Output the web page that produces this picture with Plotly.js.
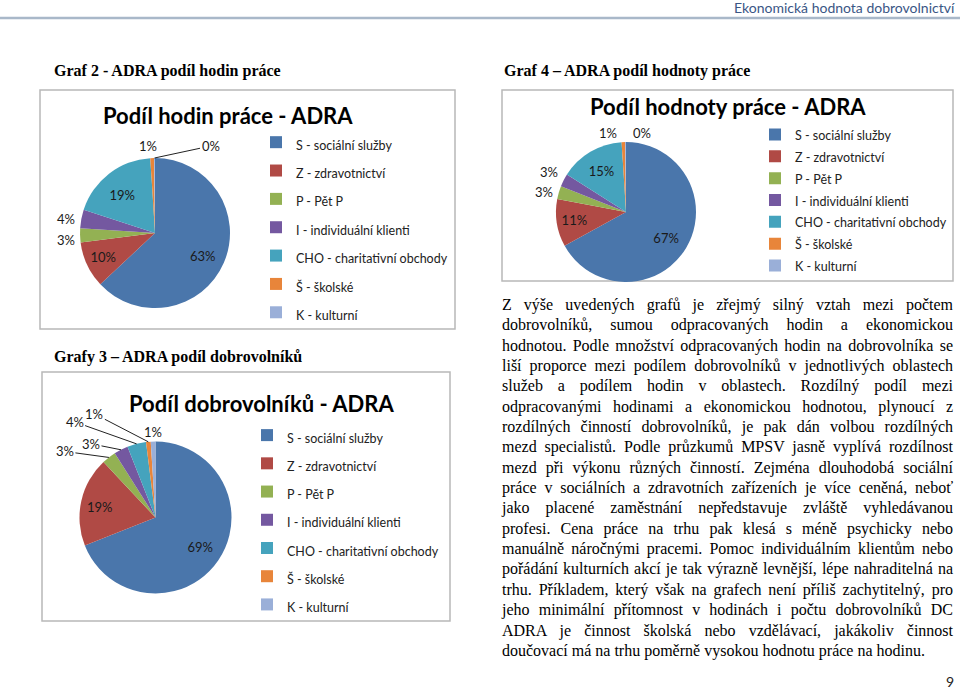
<!DOCTYPE html>
<html>
<head>
<meta charset="utf-8">
<script src="https://cdn.plot.ly/plotly-3.0.1.min.js"></script>
<style>
  html, body { margin: 0; padding: 0; background: #fff; }
  #wrap { position: relative; width: 960px; height: 689px; overflow: hidden; }
  #chart { position: absolute; left: 0; top: 0; width: 960px; height: 689px; }
  #para { position: absolute; left: 502px; top: 295px; width: 451px;
          font-family: "Liberation Serif", "Times New Roman", serif; font-size: 16px; color: #000; }
  #para div { height: 20.35px; line-height: 20.35px; white-space: nowrap; text-align: justify; text-align-last: justify; }
  #para div.last { text-align: left; text-align-last: left; }
</style>
</head>
<body>
<div id="wrap">
  <div id="chart"></div>
  <div id="para"></div>
</div>
<script>
// ---------- data ----------
const categories = ['S - sociální služby', 'Z - zdravotnictví', 'P - Pět P',
  'I - individuální klienti', 'CHO - charitativní obchody', 'Š - školské', 'K - kulturní'];
const hoursShare = [63, 10, 3, 4, 19, 0.8, 0.2];        // Podíl hodin práce
const volunteersShare = [69, 19, 3, 3, 4, 1, 1];         // Podíl dobrovolníků
const valueShare = [67, 11, 3, 3, 15, 0.8, 0.2];         // Podíl hodnoty práce
const sliceColors = ['#4A76AB', '#B04A45', '#93B153', '#7458A0', '#45A3BD', '#E8853A', '#9AAFD8'];

const headerText = 'Ekonomická hodnota dobrovolnictví';
const heading2 = 'Graf 2 - ADRA podíl hodin práce';
const heading3 = 'Grafy 3 – ADRA podíl dobrovolníků';
const heading4 = 'Graf 4 – ADRA podíl hodnoty práce';
const title2 = 'Podíl hodin práce - ADRA';
const title3 = 'Podíl dobrovolníků - ADRA';
const title4 = 'Podíl hodnoty práce - ADRA';
const pageNumber = '9';
const paragraphLines = [
  'Z výše uvedených grafů je zřejmý silný vztah mezi počtem',
  'dobrovolníků, sumou odpracovaných hodin a ekonomickou',
  'hodnotou. Podle množství odpracovaných hodin na dobrovolníka se',
  'liší proporce mezi podílem dobrovolníků v jednotlivých oblastech',
  'služeb a podílem hodin v oblastech. Rozdílný podíl mezi',
  'odpracovanými hodinami a ekonomickou hodnotou, plynoucí z',
  'rozdílných činností dobrovolníků, je pak dán volbou rozdílných',
  'mezd specialistů. Podle průzkumů MPSV jasně vyplívá rozdílnost',
  'mezd při výkonu různých činností. Zejména dlouhodobá sociální',
  'práce v sociálních a zdravotních zařízeních je více ceněná, neboť',
  'jako placené zaměstnání nepředstavuje zvláště vyhledávanou',
  'profesi. Cena práce na trhu pak klesá s méně psychicky nebo',
  'manuálně náročnými pracemi. Pomoc individuálním klientům nebo',
  'pořádání kulturních akcí je tak výrazně levnější, lépe nahraditelná na',
  'trhu. Příkladem, který však na grafech není příliš zachytitelný, pro',
  'jeho minimální přítomnost v hodinách i počtu dobrovolníků DC',
  'ADRA je činnost školská nebo vzdělávací, jakákoliv činnost',
  'doučovací má na trhu poměrně vysokou hodnotu práce na hodinu.'
];

// ---------- layout helpers ----------
const W = 960, H = 689;
const fx = x => x / W;
const fy = y => 1 - y / H;
const FONT = 'Lato, "Open Sans", sans-serif';
const SERIF = '"Liberation Serif", "Times New Roman", serif';
const LABEL_FONT = { family: FONT, size: 13, color: '#1a1a1a' };
const NB = '\u00A0';

// chart geometry (pixels) and label styling
const charts = [
  { values: hoursShare, cx: 155, cy: 233, r: 75, legendId: 'legend', sizeTag: '12.5px',
    inside: [true, true, false, false, true, false, false],
    // inside-label nudges: [leading spaces, trailing spaces, blank line before]
    pads: { 0: [8, 0, true], 4: [0, 2, false] },
    // offset of outside label from the slice edge [dx, dy, leader]
    offsets: { 2: [-14, 5, false], 3: [-15, 0, false], 5: [-4, -12, false], 6: [56, -12, true] } },
  { values: volunteersShare, cx: 155.5, cy: 517.5, r: 76, legendId: 'legend2', sizeTag: '12.50px',
    inside: [true, true, false, false, false, false, false],
    pads: { 0: [8, 0, true], 1: [0, 5, false] },
    offsets: { 2: [-44, -6, true], 3: [-30, -6, true], 4: [-62, -22, true], 5: [-54, -28, true], 6: [0, -10, false] } },
  { values: valueShare, cx: 626, cy: 212, r: 70, legendId: 'legend3', sizeTag: '12.500px',
    inside: [true, true, false, false, true, false, false],
    pads: { 0: [6, 0, true] },
    offsets: { 2: [-15, 0, false], 3: [-15, -8, false], 5: [-15, -9, false], 6: [16, -9, false] } }
];

function pieTrace(c) {
  const labels = categories.map(t => '<span style="font-size:' + c.sizeTag + '">' + t + '</span>');
  const templates = c.inside.map((v, i) => {
    if (!v) return '';
    const p = c.pads[i] || [0, 0, false];
    return (p[2] ? NB + '<br>' : '') + NB.repeat(p[0]) + '%{percent:.0%}' + NB.repeat(p[1]);
  });
  return {
    type: 'pie',
    labels: labels,
    values: c.values,
    sort: false,
    direction: 'clockwise',
    rotation: 0,
    marker: { colors: sliceColors, line: { width: 0 } },
    texttemplate: templates,
    textposition: 'inside',
    insidetextorientation: 'horizontal',
    insidetextfont: LABEL_FONT,
    domain: { x: [fx(c.cx - c.r), fx(c.cx + c.r)], y: [fy(c.cy + c.r), fy(c.cy - c.r)] },
    legend: c.legendId,
    hoverinfo: 'skip',
    automargin: false
  };
}

// outside labels for the thin slices: anchored at the slice's mid-angle on the pie edge
function outsideLabels(c) {
  const total = c.values.reduce((a, b) => a + b, 0);
  const out = [];
  let cum = 0;
  c.values.forEach((v, i) => {
    const mid = (cum + v / 2) / total * 2 * Math.PI;
    cum += v;
    const off = c.offsets[i];
    if (!off) return;
    const ex = c.cx + c.r * Math.sin(mid);
    const ey = c.cy - c.r * Math.cos(mid);
    const txt = Math.round(v / total * 100) + '%';
    if (off[2]) {
      out.push({ text: txt, xref: 'paper', yref: 'paper', x: fx(ex), y: fy(ey),
        ax: off[0], ay: off[1], showarrow: true, arrowhead: 0, arrowwidth: 1,
        arrowcolor: '#222', standoff: 0, font: LABEL_FONT });
    } else {
      out.push({ text: txt, xref: 'paper', yref: 'paper', x: fx(ex + off[0]), y: fy(ey + off[1]),
        showarrow: false, xanchor: 'center', yanchor: 'middle', font: LABEL_FONT });
    }
  });
  return out;
}

function legendCfg(left, top, size) {
  return {
    x: fx(left), y: fy(top), xanchor: 'left', yanchor: 'top',
    bgcolor: 'rgba(0,0,0,0)', borderwidth: 0,
    font: { family: FONT, size: size, color: '#222' },
    traceorder: 'normal'
  };
}

function boxShape(x0, y0, x1, y1) {
  return { type: 'rect', xref: 'paper', yref: 'paper',
    x0: fx(x0), x1: fx(x1), y0: fy(y1), y1: fy(y0),
    line: { color: '#b8b8b8', width: 1.5 }, fillcolor: 'rgba(0,0,0,0)', layer: 'below' };
}

function ann(text, x, y, opts) {
  return Object.assign({ text: text, xref: 'paper', yref: 'paper', x: fx(x), y: fy(y),
    showarrow: false, xanchor: 'center', yanchor: 'middle' }, opts || {});
}

const traces = charts.map(pieTrace);
let labelAnns = [];
charts.forEach(c => { labelAnns = labelAnns.concat(outsideLabels(c)); });

const layout = {
  width: W, height: H,
  margin: { l: 0, r: 0, t: 0, b: 0 },
  paper_bgcolor: '#fff', plot_bgcolor: '#fff',
  showlegend: true,
  legend: legendCfg(256, 123, 19.5),
  legend2: legendCfg(247, 416, 19.4),
  legend3: legendCfg(755, 118.5, 14.5),
  shapes: [
    { type: 'line', xref: 'paper', yref: 'paper', x0: 0, x1: 1, y0: fy(18), y1: fy(18),
      line: { color: '#a9b8c9', width: 2.5 } },
    boxShape(40, 90, 455, 329),
    boxShape(42, 372, 450, 621),
    boxShape(502, 90, 953, 281)
  ],
  annotations: [
    ann(headerText, 957, 8, { xanchor: 'right', font: { family: FONT, size: 14, color: '#3a5685' } }),
    ann(heading2, 52, 71, { xanchor: 'left', font: { family: SERIF, size: 16, color: '#000', weight: 'bold' } }),
    ann(heading3, 52, 357, { xanchor: 'left', font: { family: SERIF, size: 16, color: '#000', weight: 'bold' } }),
    ann(heading4, 502, 71, { xanchor: 'left', font: { family: SERIF, size: 16, color: '#000', weight: 'bold' } }),
    ann(title2, 228, 115, { font: { family: FONT, size: 22, color: '#000', weight: 'bold' } }),
    ann(title3, 261, 403, { font: { family: FONT, size: 22, color: '#000', weight: 'bold' } }),
    ann(title4, 728, 107, { font: { family: FONT, size: 22, color: '#000', weight: 'bold' } }),
    ann(pageNumber, 950, 681, { font: { family: FONT, size: 14, color: '#222' } })
  ].concat(labelAnns)
};

Plotly.newPlot('chart', traces, layout, { staticPlot: true, displayModeBar: false });

// paragraph text
const para = document.getElementById('para');
paragraphLines.forEach((line, i) => {
  const d = document.createElement('div');
  d.textContent = line;
  if (i === paragraphLines.length - 1) d.className = 'last';
  para.appendChild(d);
});
</script>
</body>
</html>
